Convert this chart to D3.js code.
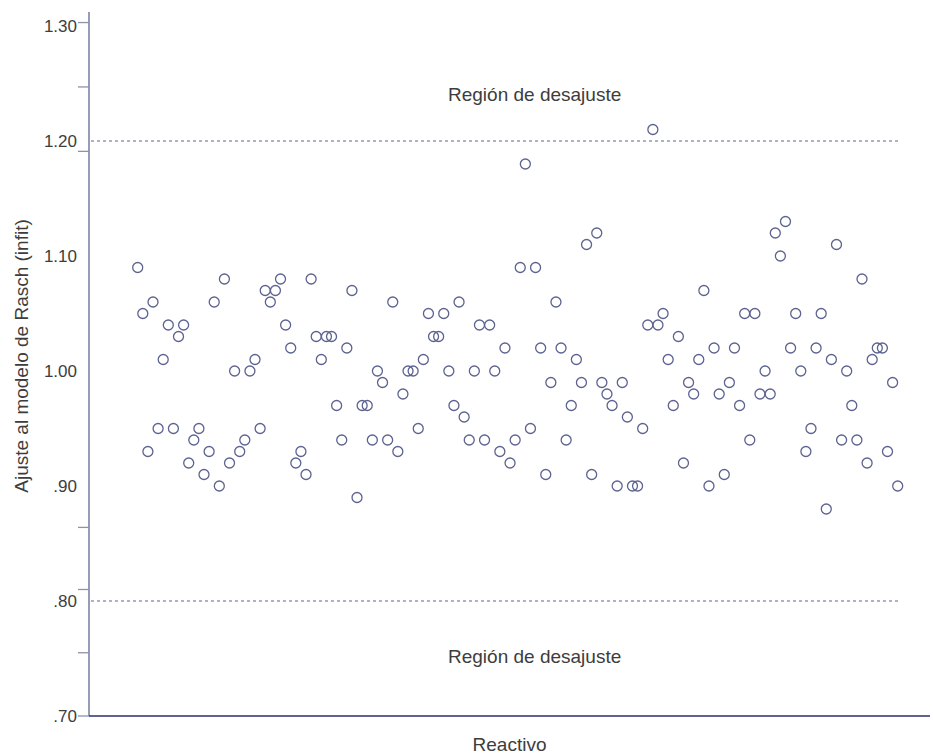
<!DOCTYPE html>
<html>
<head>
<meta charset="utf-8">
<script src="https://cdn.jsdelivr.net/npm/d3@7"></script>
<style>
  html, body { margin: 0; padding: 0; background: #ffffff; }
  svg { display: block; }
  text { font-family: "Liberation Sans", Arial, Helvetica, sans-serif; fill: #3d3d3d; }
</style>
</head>
<body>
<svg id="chart" width="933" height="755"></svg>
<script>
// Infit mean-square per item, in item order
const infitValues = [
  1.09, 1.05, 0.93, 1.06, 0.95, 1.01, 1.04, 0.95, 1.03, 1.04,
  0.92, 0.94, 0.95, 0.91, 0.93, 1.06, 0.90, 1.08, 0.92, 1.00,
  0.93, 0.94, 1.00, 1.01, 0.95, 1.07, 1.06, 1.07, 1.08, 1.04,
  1.02, 0.92, 0.93, 0.91, 1.08, 1.03, 1.01, 1.03, 1.03, 0.97,
  0.94, 1.02, 1.07, 0.89, 0.97, 0.97, 0.94, 1.00, 0.99, 0.94,
  1.06, 0.93, 0.98, 1.00, 1.00, 0.95, 1.01, 1.05, 1.03, 1.03,
  1.05, 1.00, 0.97, 1.06, 0.96, 0.94, 1.00, 1.04, 0.94, 1.04,
  1.00, 0.93, 1.02, 0.92, 0.94, 1.09, 1.18, 0.95, 1.09, 1.02,
  0.91, 0.99, 1.06, 1.02, 0.94, 0.97, 1.01, 0.99, 1.11, 0.91,
  1.12, 0.99, 0.98, 0.97, 0.90, 0.99, 0.96, 0.90, 0.90, 0.95,
  1.04, 1.21, 1.04, 1.05, 1.01, 0.97, 1.03, 0.92, 0.99, 0.98,
  1.01, 1.07, 0.90, 1.02, 0.98, 0.91, 0.99, 1.02, 0.97, 1.05,
  0.94, 1.05, 0.98, 1.00, 0.98, 1.12, 1.10, 1.13, 1.02, 1.05,
  1.00, 0.93, 0.95, 1.02, 1.05, 0.88, 1.01, 1.11, 0.94, 1.00,
  0.97, 0.94, 1.08, 0.92, 1.01, 1.02, 1.02, 0.93, 0.99, 0.90
];
const itemNumbers = infitValues.map((_, i) => i + 1);

// Axis labelling
const yLabelValues = [1.30, 1.20, 1.10, 1.00, 0.90, 0.80, 0.70];
const yLabelTexts = ["1.30", "1.20", "1.10", "1.00", ".90", ".80", ".70"];
const yTickMarks = [1.303, 1.247, 1.191, 0.864, 0.810, 0.755, 0.70];

// Acceptable-fit limits
const fitLimits = [1.20, 0.80];
const regionLabel = "Región de desajuste";
const regionLabelValues = [1.235, 0.746];
const xTitle = "Reactivo";
const yTitle = "Ajuste al modelo de Rasch (infit)";

const svg = d3.select("#chart");

const axisX = 89;
const plotRight = 930;
const y = d3.scaleLinear().domain([0.70, 1.30]).range([716, 26]);
const x = d3.scaleLinear().domain([1, itemNumbers.length]).range([137.7, 897.7]);

// Y axis: spine, short ticks, value labels
svg.append("line")
  .attr("x1", axisX).attr("x2", axisX)
  .attr("y1", 12).attr("y2", y(0.70))
  .attr("stroke", "#5f6690").attr("stroke-width", 1.3);

svg.append("g").selectAll("line")
  .data(yTickMarks)
  .join("line")
  .attr("x1", axisX - 11).attr("x2", axisX)
  .attr("y1", d => y(d)).attr("y2", d => y(d))
  .attr("stroke", "#8d92ad").attr("stroke-width", 1.3);

svg.append("g").selectAll("text")
  .data(yLabelValues)
  .join("text")
  .attr("x", 77)
  .attr("y", d => y(d))
  .attr("dy", "0.36em")
  .attr("text-anchor", "end")
  .attr("font-size", 17)
  .text((d, i) => yLabelTexts[i]);

// X axis baseline
svg.append("line")
  .attr("x1", axisX).attr("x2", plotRight)
  .attr("y1", y(0.70)).attr("y2", y(0.70))
  .attr("stroke", "#28306a").attr("stroke-width", 1.5);

// Dashed fit limits
svg.append("g").selectAll("line")
  .data(fitLimits)
  .join("line")
  .attr("x1", axisX + 2).attr("x2", 900)
  .attr("y1", d => y(d)).attr("y2", d => y(d))
  .attr("stroke", "#5f6590").attr("stroke-width", 1.1)
  .attr("stroke-dasharray", "3,3");

// Region labels, above and below the limits
svg.append("g").selectAll("text")
  .data(regionLabelValues)
  .join("text")
  .attr("x", 448)
  .attr("y", d => y(d))
  .attr("text-anchor", "start")
  .attr("font-size", 19)
  .text(regionLabel);

// Items
svg.append("g").selectAll("circle")
  .data(infitValues)
  .join("circle")
  .attr("cx", (d, i) => x(itemNumbers[i]))
  .attr("cy", d => y(d))
  .attr("r", 5)
  .attr("fill", "none")
  .attr("stroke", "#5c6390")
  .attr("stroke-width", 1.3);

// Axis titles
svg.append("text")
  .attr("x", (axisX + plotRight) / 2)
  .attr("y", 751)
  .attr("text-anchor", "middle")
  .attr("font-size", 19)
  .text(xTitle);

svg.append("text")
  .attr("transform", "translate(28, 356) rotate(-90)")
  .attr("text-anchor", "middle")
  .attr("font-size", 19)
  .text(yTitle);
</script>
</body>
</html>
